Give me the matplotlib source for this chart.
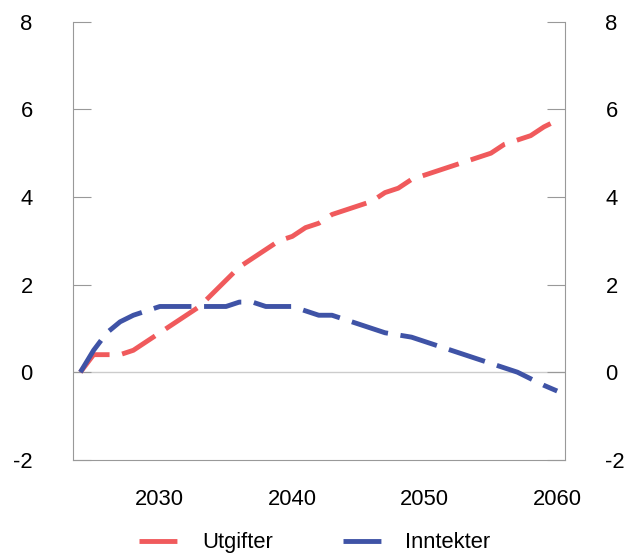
import numpy as np
import matplotlib
matplotlib.use('Agg')
import matplotlib.pyplot as plt

# data
years = np.arange(2024, 2061)
utgifter = [0.0, 0.4, 0.4, 0.4, 0.5, 0.7, 0.9, 1.1, 1.3, 1.5, 1.8, 2.1, 2.4, 2.6, 2.8, 3.0,
            3.1, 3.3, 3.4, 3.6, 3.7, 3.8, 3.9, 4.1, 4.2, 4.4, 4.5, 4.6, 4.7, 4.8, 4.9, 5.0,
            5.2, 5.3, 5.4, 5.6, 5.75]
inntekter = [0.0, 0.5, 0.9, 1.15, 1.3, 1.4, 1.5, 1.5, 1.5, 1.5, 1.5, 1.5, 1.6, 1.6, 1.5, 1.5,
             1.5, 1.4, 1.3, 1.3, 1.2, 1.1, 1.0, 0.9, 0.85, 0.8, 0.7, 0.6, 0.5, 0.4, 0.3, 0.2,
             0.1, 0.0, -0.15, -0.3, -0.43]
labels = ['Utgifter', 'Inntekter']
colors = ['#F05A5C', '#3F53A6']
yticks = [-2, 0, 2, 4, 6, 8]
xticks = [2030, 2040, 2050, 2060]

plt.rcParams['font.family'] = ['Liberation Sans', 'DejaVu Sans']
plt.rcParams['font.size'] = 15.8
plt.rcParams['axes.unicode_minus'] = False

fig = plt.figure(figsize=(6.3, 5.58), dpi=100)
ax = fig.add_axes([0.116, 0.176, 0.781, 0.785])

for vals, lab, c in zip([utgifter, inntekter], labels, colors):
    ln, = ax.plot(years, vals, color=c, lw=3.5, label=lab)
    ln.set_dashes((7.8, 2.6))

ax.axhline(0, color='#cccccc', lw=1, zorder=0)
ax.set_xlim(2023.45, 2060.6)
ax.set_ylim(-2, 8)
ax.set_yticks(yticks)
ax.set_xticks(xticks)

for side in ['left', 'right', 'bottom']:
    ax.spines[side].set_color('#999999')
ax.spines['top'].set_visible(False)

ax.tick_params(axis='y', direction='in', length=13, color='#999999',
               left=True, right=True, labelleft=True, labelright=True, pad=29)
ax.tick_params(axis='x', length=0, pad=21)

fig.legend(loc='center', bbox_to_anchor=(0.5, 0.027), ncol=2, frameon=False,
           handlelength=1.85, handletextpad=1.0, columnspacing=3.2)

fig.savefig('out.png', dpi=100)
